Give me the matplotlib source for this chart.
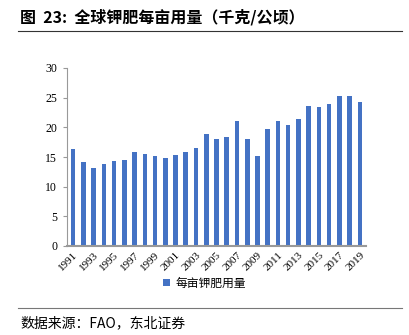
import matplotlib
matplotlib.use("Agg")
import matplotlib.pyplot as plt
from matplotlib.lines import Line2D

years = [str(y) for y in range(1991, 2020)]
values = [16.4, 14.2, 13.15, 13.8, 14.3, 14.45, 15.8, 15.45, 15.1, 14.85,
          15.4, 15.8, 16.5, 18.8, 18.1, 18.3, 21.1, 18.0, 15.1, 19.7,
          21.1, 20.45, 21.4, 23.6, 23.45, 23.9, 25.2, 25.2, 24.2]
series_name = "每亩钾肥用量"
title = "图  23:  全球钾肥每亩用量（千克/公顷）"
source = "数据来源：FAO，东北证券"
yticks = [0, 5, 10, 15, 20, 25, 30]

cjk = ['Noto Sans CJK SC', 'DejaVu Sans']
num = ['Liberation Serif', 'DejaVu Serif']

fig = plt.figure(figsize=(4.09, 3.35), dpi=100)
ax = fig.add_axes([67/409, 1-246/335, (366-67)/409, (246-68)/335])

x = list(range(len(years)))
ax.bar(x, values, width=0.45, color='#4472C4', label=series_name, zorder=2)
ax.set_xlim(-0.6, len(years)-0.4)
ax.set_ylim(0, 30)
ax.set_yticks(yticks)
ax.set_yticklabels([str(t) for t in yticks], fontfamily=num, fontsize=8.5)
ax.set_xticks(x[::2])
ax.set_xticklabels(years[::2], rotation=45, ha='right', rotation_mode='anchor',
                   fontfamily=num, fontsize=8)
for s in ['top', 'right']:
    ax.spines[s].set_visible(False)
for s in ['left', 'bottom']:
    ax.spines[s].set_color('#999999')
ax.spines['bottom'].set_linewidth(1.5)
ax.tick_params(axis='y', length=3, color='#999999', pad=4)
ax.tick_params(axis='x', length=0, pad=3)

leg = fig.legend(loc='center', bbox_to_anchor=(0.5, 1-283/335), frameon=False,
                 prop={'family': cjk, 'size': 8.5}, handlelength=0.6, handleheight=0.6,
                 handletextpad=0.4)

fig.text(20/409, 1-17/335, title, fontfamily=cjk, fontsize=11.5, fontweight='bold',
         va='center', ha='left')
fig.add_artist(Line2D([18/409, 402/409], [1-31/335, 1-31/335], color='#333333', lw=0.8))
fig.add_artist(Line2D([18/409, 402/409], [1-308/335, 1-308/335], color='#777777', lw=0.8))
fig.text(20/409, 1-323/335, source, fontfamily=cjk, fontsize=10, va='center', ha='left')

fig.savefig('out.png', dpi=100)
